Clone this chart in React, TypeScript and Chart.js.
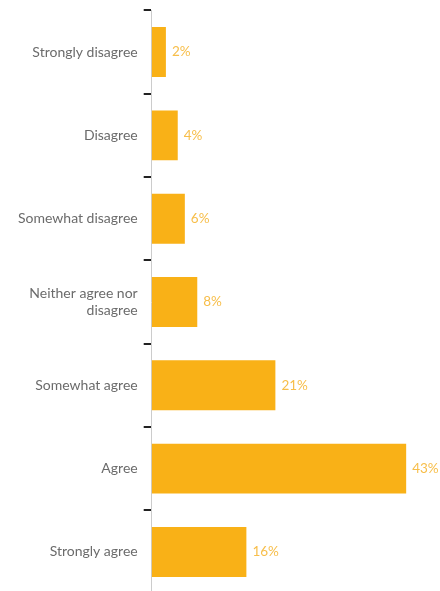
import React, { useEffect, useRef } from "react";
import { Chart, registerables } from "chart.js";

Chart.register(...registerables);

const categories: (string | string[])[] = [
  "Strongly disagree",
  "Disagree",
  "Somewhat disagree",
  ["Neither agree nor", "disagree"],
  "Somewhat agree",
  "Agree",
  "Strongly agree",
];
const values = [2.4, 4.4, 5.6, 7.7, 20.9, 43, 16];
const valueLabels = ["2%", "4%", "6%", "8%", "21%", "43%", "16%"];

const BAR_COLOR = "#F9B117";
const LABEL_COLOR = "#F7BE4A";
const FONT = "Lato, 'Open Sans', sans-serif";

const valueLabelPlugin = {
  id: "valueLabels",
  afterDatasetsDraw(chart: any) {
    const ctx = chart.ctx;
    const meta = chart.getDatasetMeta(0);
    ctx.save();
    ctx.font = `13.5px ${FONT}`;
    ctx.fillStyle = LABEL_COLOR;
    ctx.textAlign = "left";
    ctx.textBaseline = "middle";
    meta.data.forEach((bar: any, i: number) => {
      ctx.fillText(valueLabels[i], bar.x + 6, bar.y);
    });
    ctx.restore();
  },
};

export default function App() {
  const ref = useRef<HTMLCanvasElement | null>(null);
  useEffect(() => {
    if (!ref.current) return;
    const chart = new Chart(ref.current, {
      type: "bar",
      data: {
        labels: categories,
        datasets: [
          {
            data: values,
            backgroundColor: BAR_COLOR,
            borderWidth: 0,
            barPercentage: 0.6,
            categoryPercentage: 1,
          },
        ],
      },
      options: {
        indexAxis: "y",
        animation: false,
        responsive: false,
        layout: { padding: { top: 4, bottom: 0, left: 12, right: 22 } },
        plugins: {
          legend: { display: false },
          tooltip: { enabled: false },
        },
        scales: {
          x: {
            display: false,
            min: 0,
            max: 45,
          },
          y: {
            border: { display: true, color: "#cccccc", width: 1 },
            grid: {
              offset: true,
              drawOnChartArea: false,
              drawTicks: true,
              tickLength: 8,
              color: "#222222",
              lineWidth: 2,
            },
            ticks: {
              color: "#6b6b6b",
              font: { family: FONT, size: 14 },
              padding: 6,
            },
          },
        },
      },
      plugins: [valueLabelPlugin],
    });
    return () => chart.destroy();
  }, []);
  return (
    <div style={{ position: "fixed", left: 0, top: 0, width: 440, height: 591, overflow: "hidden", background: "#fff" }}>
      <canvas ref={ref} width={440} height={612} style={{ position: "absolute", left: 0, top: -4 }} />
    </div>
  );
}
